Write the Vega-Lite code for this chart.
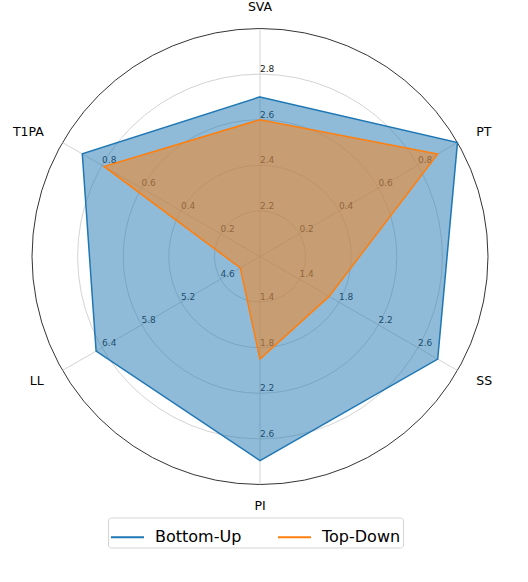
{
  "$schema": "https://vega.github.io/schema/vega-lite/v6.json",
  "description": "Radar chart: Bottom-Up vs Top-Down on six spinal measures, each spoke with its own scale.",
  "width": 500,
  "height": 500,
  "autosize": "none",
  "padding": {"left": 10, "top": 6.5, "right": 18, "bottom": 75.5},
  "datasets": {
    "axes": [
      {"axis": "SVA", "i": 0, "lo": 2, "hi": 3},
      {"axis": "PT", "i": 1, "lo": 0, "hi": 1},
      {"axis": "SS", "i": 2, "lo": 1, "hi": 3},
      {"axis": "PI", "i": 3, "lo": 1, "hi": 3},
      {"axis": "LL", "i": 4, "lo": 4, "hi": 7},
      {"axis": "T1PA", "i": 5, "lo": 0, "hi": 1}
    ],
    "rings": [{"f": 0.2}, {"f": 0.4}, {"f": 0.6}, {"f": 0.8}, {"f": 1.0}],
    "ticks": [
      {"axis": "SVA", "t": 2.2}, {"axis": "SVA", "t": 2.4}, {"axis": "SVA", "t": 2.6}, {"axis": "SVA", "t": 2.8},
      {"axis": "PT", "t": 0.2}, {"axis": "PT", "t": 0.4}, {"axis": "PT", "t": 0.6}, {"axis": "PT", "t": 0.8},
      {"axis": "SS", "t": 1.4}, {"axis": "SS", "t": 1.8}, {"axis": "SS", "t": 2.2}, {"axis": "SS", "t": 2.6},
      {"axis": "PI", "t": 1.4}, {"axis": "PI", "t": 1.8}, {"axis": "PI", "t": 2.2}, {"axis": "PI", "t": 2.6},
      {"axis": "LL", "t": 4.6}, {"axis": "LL", "t": 5.2}, {"axis": "LL", "t": 5.8}, {"axis": "LL", "t": 6.4},
      {"axis": "T1PA", "t": 0.2}, {"axis": "T1PA", "t": 0.4}, {"axis": "T1PA", "t": 0.6}, {"axis": "T1PA", "t": 0.8}
    ],
    "scores": [
      {"method": "Bottom-Up", "axis": "SVA", "value": 2.70},
      {"method": "Bottom-Up", "axis": "PT", "value": 1.00},
      {"method": "Bottom-Up", "axis": "SS", "value": 2.80},
      {"method": "Bottom-Up", "axis": "PI", "value": 2.79},
      {"method": "Bottom-Up", "axis": "LL", "value": 6.49},
      {"method": "Bottom-Up", "axis": "T1PA", "value": 0.90},
      {"method": "Top-Down", "axis": "SVA", "value": 2.60},
      {"method": "Top-Down", "axis": "PT", "value": 0.90},
      {"method": "Top-Down", "axis": "SS", "value": 1.70},
      {"method": "Top-Down", "axis": "PI", "value": 1.90},
      {"method": "Top-Down", "axis": "LL", "value": 4.30},
      {"method": "Top-Down", "axis": "T1PA", "value": 0.79}
    ]
  },
  "layer": [
    {
      "data": {"name": "rings"},
      "mark": {"type": "arc", "filled": false, "theta": 0, "theta2": 6.2832, "strokeWidth": 0.8},
      "encoding": {
        "radius": {"field": "f", "type": "quantitative", "stack": null, "scale": {"type": "linear", "domain": [0, 1], "range": [0, 228], "zero": true, "nice": false}},
        "stroke": {"condition": {"test": "datum.f >= 1", "value": "#000000"}, "value": "#c8c8c8"}
      }
    },
    {
      "data": {"name": "axes"},
      "transform": [
        {"calculate": "PI / 2 - datum.i * PI / 3", "as": "a"},
        {"calculate": "cos(datum.a)", "as": "ex"},
        {"calculate": "sin(datum.a)", "as": "ey"},
        {"calculate": "0", "as": "c"}
      ],
      "mark": {"type": "rule", "stroke": "#c8c8c8", "strokeWidth": 0.8},
      "encoding": {
        "x": {"field": "c", "type": "quantitative", "scale": {"domain": [-1.0965, 1.0965]}, "axis": null},
        "y": {"field": "c", "type": "quantitative", "scale": {"domain": [-1.0965, 1.0965]}, "axis": null},
        "x2": {"field": "ex"},
        "y2": {"field": "ey"}
      }
    },
    {
      "data": {"name": "ticks"},
      "transform": [
        {"lookup": "axis", "from": {"data": {"name": "axes"}, "key": "axis", "fields": ["i", "lo", "hi"]}},
        {"calculate": "PI / 2 - datum.i * PI / 3", "as": "a"},
        {"calculate": "(datum.t - datum.lo) / (datum.hi - datum.lo)", "as": "frac"},
        {"calculate": "datum.frac * cos(datum.a)", "as": "px"},
        {"calculate": "datum.frac * sin(datum.a)", "as": "py"}
      ],
      "mark": {"type": "text", "align": "left", "baseline": "bottom", "font": "DejaVu Sans", "fontSize": 9, "color": "#222222"},
      "encoding": {
        "x": {"field": "px", "type": "quantitative", "scale": {"domain": [-1.0965, 1.0965]}, "axis": null},
        "y": {"field": "py", "type": "quantitative", "scale": {"domain": [-1.0965, 1.0965]}, "axis": null},
        "text": {"field": "t", "type": "quantitative", "format": ".1f"}
      }
    },
    {
      "data": {"name": "scores"},
      "transform": [
        {"lookup": "axis", "from": {"data": {"name": "axes"}, "key": "axis", "fields": ["i", "lo", "hi"]}},
        {"calculate": "PI / 2 - datum.i * PI / 3", "as": "a"},
        {"calculate": "(datum.value - datum.lo) / (datum.hi - datum.lo)", "as": "frac"},
        {"calculate": "datum.frac * cos(datum.a)", "as": "px"},
        {"calculate": "datum.frac * sin(datum.a)", "as": "py"}
      ],
      "mark": {"type": "line", "interpolate": "linear-closed", "strokeWidth": 1.5, "fillOpacity": 0.5},
      "encoding": {
        "x": {"field": "px", "type": "quantitative", "scale": {"domain": [-1.0965, 1.0965]}, "axis": null},
        "y": {"field": "py", "type": "quantitative", "scale": {"domain": [-1.0965, 1.0965]}, "axis": null},
        "order": {"field": "i", "type": "quantitative"},
        "color": {
          "field": "method",
          "type": "nominal",
          "scale": {"domain": ["Bottom-Up", "Top-Down"], "range": ["#1f77b4", "#ff7f0e"]},
          "legend": {
            "orient": "none",
            "legendX": 98,
            "legendY": 511,
            "direction": "horizontal",
            "title": null,
            "symbolType": "stroke",
            "symbolSize": 1089,
            "symbolStrokeWidth": 2,
            "labelFont": "DejaVu Sans",
            "labelFontSize": 16,
            "labelColor": "#000000",
            "labelOffset": 10,
            "columnPadding": 32,
            "padding": 2,
            "strokeColor": "#d5d5d5",
            "fillColor": "#ffffff",
            "cornerRadius": 3
          }
        },
        "fill": {
          "field": "method",
          "type": "nominal",
          "scale": {"domain": ["Bottom-Up", "Top-Down"], "range": ["#1f77b4", "#ff7f0e"]},
          "legend": null
        }
      }
    },
    {
      "data": {"name": "axes"},
      "transform": [
        {"calculate": "PI / 2 - datum.i * PI / 3", "as": "a"},
        {"calculate": "1.095 * cos(datum.a)", "as": "px"},
        {"calculate": "1.095 * sin(datum.a)", "as": "py"}
      ],
      "mark": {
        "type": "text",
        "align": {"expr": "datum.px > 0.1 ? 'left' : datum.px < -0.1 ? 'right' : 'center'"},
        "baseline": "middle",
        "font": "DejaVu Sans",
        "fontSize": 12.5,
        "color": "#000000"
      },
      "encoding": {
        "x": {"field": "px", "type": "quantitative", "scale": {"domain": [-1.0965, 1.0965]}, "axis": null},
        "y": {"field": "py", "type": "quantitative", "scale": {"domain": [-1.0965, 1.0965]}, "axis": null},
        "text": {"field": "axis", "type": "nominal"}
      }
    }
  ],
  "config": {
    "view": {"stroke": null}
  }
}
